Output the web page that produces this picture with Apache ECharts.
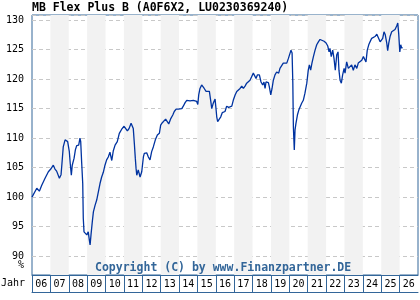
<!DOCTYPE html>
<html>
<head>
<meta charset="utf-8">
<script src="https://cdn.jsdelivr.net/npm/echarts@6/dist/echarts.min.js"></script>
<style>
html, body { margin: 0; padding: 0; background: #fff; }
#main { width: 420px; height: 300px; }
</style>
</head>
<body>
<div id="main"></div>
<script>
// dates as fractional years, values in %
var dates = [2006.00, 2006.07, 2006.26, 2006.40, 2006.53, 2006.71, 2006.89, 2007.02, 2007.16, 2007.25, 2007.34,
	2007.49, 2007.58, 2007.63, 2007.70, 2007.80, 2007.87, 2007.94, 2008.03, 2008.08, 2008.14,
	2008.19, 2008.29, 2008.36, 2008.43, 2008.54, 2008.61, 2008.65, 2008.70, 2008.76, 2008.79,
	2008.83, 2008.92, 2008.98, 2009.06, 2009.12, 2009.16, 2009.21, 2009.28, 2009.34, 2009.43,
	2009.52, 2009.61, 2009.70, 2009.79, 2009.88, 2009.97, 2010.06, 2010.15, 2010.24, 2010.34,
	2010.42, 2010.52, 2010.64, 2010.75, 2010.88, 2011.01, 2011.11, 2011.19, 2011.28, 2011.39,
	2011.46, 2011.51, 2011.57, 2011.62, 2011.66, 2011.70, 2011.78, 2011.88, 2011.97, 2012.06,
	2012.11, 2012.24, 2012.33, 2012.42, 2012.51, 2012.60, 2012.71, 2012.82, 2012.93, 2013.00,
	2013.09, 2013.18, 2013.27, 2013.36, 2013.44, 2013.55, 2013.66, 2013.74, 2013.84, 2013.96,
	2014.05, 2014.15, 2014.23, 2014.33, 2014.42, 2014.50, 2014.60, 2014.69, 2014.78, 2014.87,
	2014.96, 2015.02, 2015.07, 2015.14, 2015.23, 2015.32, 2015.37, 2015.47, 2015.56, 2015.65,
	2015.72, 2015.78, 2015.85, 2015.90, 2015.96, 2016.01, 2016.05, 2016.10, 2016.18, 2016.27,
	2016.35, 2016.45, 2016.50, 2016.59, 2016.70, 2016.77, 2016.87, 2016.95, 2017.05, 2017.14,
	2017.22, 2017.32, 2017.41, 2017.50, 2017.59, 2017.68, 2017.77, 2017.86, 2017.95, 2018.04,
	2018.13, 2018.19, 2018.26, 2018.37, 2018.41, 2018.46, 2018.55, 2018.62, 2018.68, 2018.73,
	2018.86, 2018.91, 2018.99, 2019.06, 2019.13, 2019.22, 2019.31, 2019.42, 2019.49, 2019.59,
	2019.67, 2019.77, 2019.86, 2019.95, 2020.04, 2020.09, 2020.15, 2020.19, 2020.22, 2020.27,
	2020.31, 2020.36, 2020.44, 2020.51, 2020.58, 2020.67, 2020.76, 2020.85, 2020.95, 2021.03,
	2021.09, 2021.16, 2021.23, 2021.31, 2021.40, 2021.49, 2021.58, 2021.67, 2021.76, 2021.89,
	2022.00, 2022.09, 2022.16, 2022.21, 2022.28, 2022.36, 2022.43, 2022.50, 2022.58, 2022.65,
	2022.70, 2022.76, 2022.83, 2022.90, 2022.98, 2023.03, 2023.12, 2023.21, 2023.30, 2023.39,
	2023.48, 2023.57, 2023.67, 2023.75, 2023.85, 2023.94, 2024.03, 2024.12, 2024.17, 2024.24,
	2024.32, 2024.39, 2024.48, 2024.57, 2024.66, 2024.76, 2024.84, 2024.94, 2025.03, 2025.08,
	2025.15, 2025.22, 2025.30, 2025.35, 2025.41, 2025.48, 2025.57, 2025.66, 2025.75, 2025.84,
	2025.90, 2025.95, 2026.01, 2026.06, 2026.12, 2026.15];

var values = [100.0, 100.2, 101.5, 101.0, 102.0, 103.2, 104.3, 104.75, 105.4, 104.75, 104.4,
	103.2, 103.8, 105.7, 108.5, 109.7, 110.0, 109.4, 107.7, 105.7, 103.7,
	105.4, 106.6, 108.0, 108.7, 108.8, 110.0, 109.4, 106.0, 102.3, 96.4,
	94.1, 93.8, 93.6, 94.1, 92.7, 91.9, 93.6, 95.8, 97.5, 98.6,
	99.5, 100.9, 102.3, 103.4, 104.2, 105.4, 106.3, 106.8, 107.6, 106.2,
	107.8, 108.8, 109.4, 110.8, 111.5, 112.0, 112.2, 111.2, 111.6, 112.5,
	112.5, 111.6, 109.0, 106.6, 104.9, 103.7, 104.6, 103.4, 104.3, 106.8,
	107.4, 107.5, 106.8, 106.3, 107.7, 108.5, 109.7, 110.5, 110.8, 112.2,
	112.6, 112.5, 113.2, 113.1, 112.4, 113.3, 113.9, 114.5, 114.9, 114.9,
	115.2, 115.0, 115.4, 116.0, 116.4, 116.6, 116.3, 116.6, 116.4, 116.4,
	116.2, 115.7, 117.3, 118.4, 119.0, 119.1, 118.4, 117.9, 118.1, 117.9,
	116.4, 115.0, 115.8, 116.2, 116.6, 115.0, 113.6, 112.8, 113.1, 113.6,
	114.3, 114.1, 114.5, 115.4, 115.2, 114.9, 115.4, 116.4, 117.3, 117.9,
	117.9, 118.4, 118.8, 118.4, 118.8, 119.3, 119.5, 119.8, 120.4, 121.0,
	120.7, 120.1, 120.7, 120.7, 121.0, 119.5, 119.0, 119.5, 118.4, 119.5,
	119.4, 118.7, 117.3, 118.4, 119.8, 120.7, 121.2, 121.0, 121.8, 122.1,
	122.7, 122.9, 122.7, 123.5, 124.4, 124.9, 124.4, 119.3, 111.9, 108.0,
	111.4, 112.5, 113.9, 114.7, 115.0, 115.9, 116.4, 117.6, 119.3, 121.5,
	122.4, 121.5, 122.7, 123.8, 124.9, 125.8, 126.3, 126.7, 126.5, 126.4,
	126.1, 125.6, 124.6, 125.2, 123.8, 124.9, 123.5, 121.5, 124.1, 124.6,
	121.5, 119.8, 119.3, 120.7, 121.8, 121.0, 122.9, 121.8, 121.8, 122.4,
	121.5, 122.4, 121.8, 122.7, 122.7, 123.2, 123.8, 123.5, 122.9, 124.9,
	125.8, 126.3, 126.9, 126.6, 127.2, 127.6, 127.3, 126.3, 126.1, 126.9,
	128.0, 127.5, 126.1, 124.8, 126.1, 127.2, 128.0, 128.3, 128.4, 129.0,
	129.5, 127.7, 124.6, 125.8, 125.2, 125.4];

var grayYears = [2007, 2009, 2011, 2013, 2015, 2017, 2019, 2021, 2023, 2025];

var chartTitle = 'MB Flex Plus B (A0F6X2, LU0230369240)';
var copyright = 'Copyright (C) by www.Finanzpartner.DE';

var frameColor = '#336699';
var mono = "'DejaVu Sans Mono', monospace";

var myChart = echarts.init(document.getElementById('main'));

var lineData = dates.map(function (d, i) { return [d, values[i]]; });
var bands = grayYears.map(function (y) { return [{ xAxis: y }, { xAxis: y + 1 }]; });

myChart.setOption({
	animation: false,
	backgroundColor: '#fff',
	grid: {
		left: 32,
		top: 15,
		right: 2,
		bottom: 25,
		show: true,
		borderColor: frameColor,
		borderWidth: 1,
		backgroundColor: 'transparent'
	},
	xAxis: [{
		type: 'value',
		min: 2006,
		max: 2027,
		interval: 1,
		position: 'bottom',
		axisLine: { show: true, lineStyle: { color: frameColor, width: 1 } },
		axisTick: { show: true, length: 17, lineStyle: { color: frameColor, width: 1 } },
		axisLabel: {
			showMaxLabel: false,
			formatter: function (v) { return ('0' + (v % 100)).slice(-2); },
			color: '#000',
			fontFamily: mono,
			fontSize: 10,
			margin: 4,
			padding: [0, 0, 0, 18.4]
		},
		splitLine: { show: false }
	}, {
		type: 'value',
		min: 2006,
		max: 2027,
		position: 'bottom',
		offset: 17,
		axisLine: { show: true, lineStyle: { color: frameColor, width: 1 } },
		axisTick: { show: false },
		axisLabel: { show: false },
		splitLine: { show: false }
	}],
	yAxis: {
		type: 'value',
		min: 86.8,
		max: 130.85,
		splitNumber: 8,
		axisLine: { show: false },
		axisTick: { show: false },
		axisLabel: {
			showMinLabel: false,
			showMaxLabel: false,
			color: '#000',
			fontFamily: mono,
			fontSize: 10,
			margin: 8
		},
		splitLine: { lineStyle: { color: '#c8c8c8', type: [4, 3], width: 1 } }
	},
	series: [{
		// year bands
		type: 'line',
		data: [],
		z: -1,
		silent: true,
		markArea: {
			silent: true,
			itemStyle: { color: '#f2f2f2' },
			data: bands
		}
	}, {
		name: 'MB Flex Plus B',
		type: 'line',
		data: lineData,
		showSymbol: false,
		z: 3,
		lineStyle: { color: '#0033a0', width: 1.3 }
	}],
	graphic: [{
		type: 'text',
		left: 32,
		top: 2,
		style: { text: chartTitle, fill: '#000', font: 'bold 11.5px ' + mono }
	}, {
		type: 'text',
		right: 396,
		top: 260,
		style: { text: '%', fill: '#000', font: '10px ' + mono }
	}, {
		type: 'text',
		left: 1,
		top: 278,
		style: { text: 'Jahr', fill: '#000', font: '10px ' + mono }
	}, {
		type: 'text',
		left: 95,
		top: 262,
		z: 10,
		style: { text: copyright, fill: frameColor, font: 'bold 11.5px ' + mono }
	}]
});
</script>
</body>
</html>
